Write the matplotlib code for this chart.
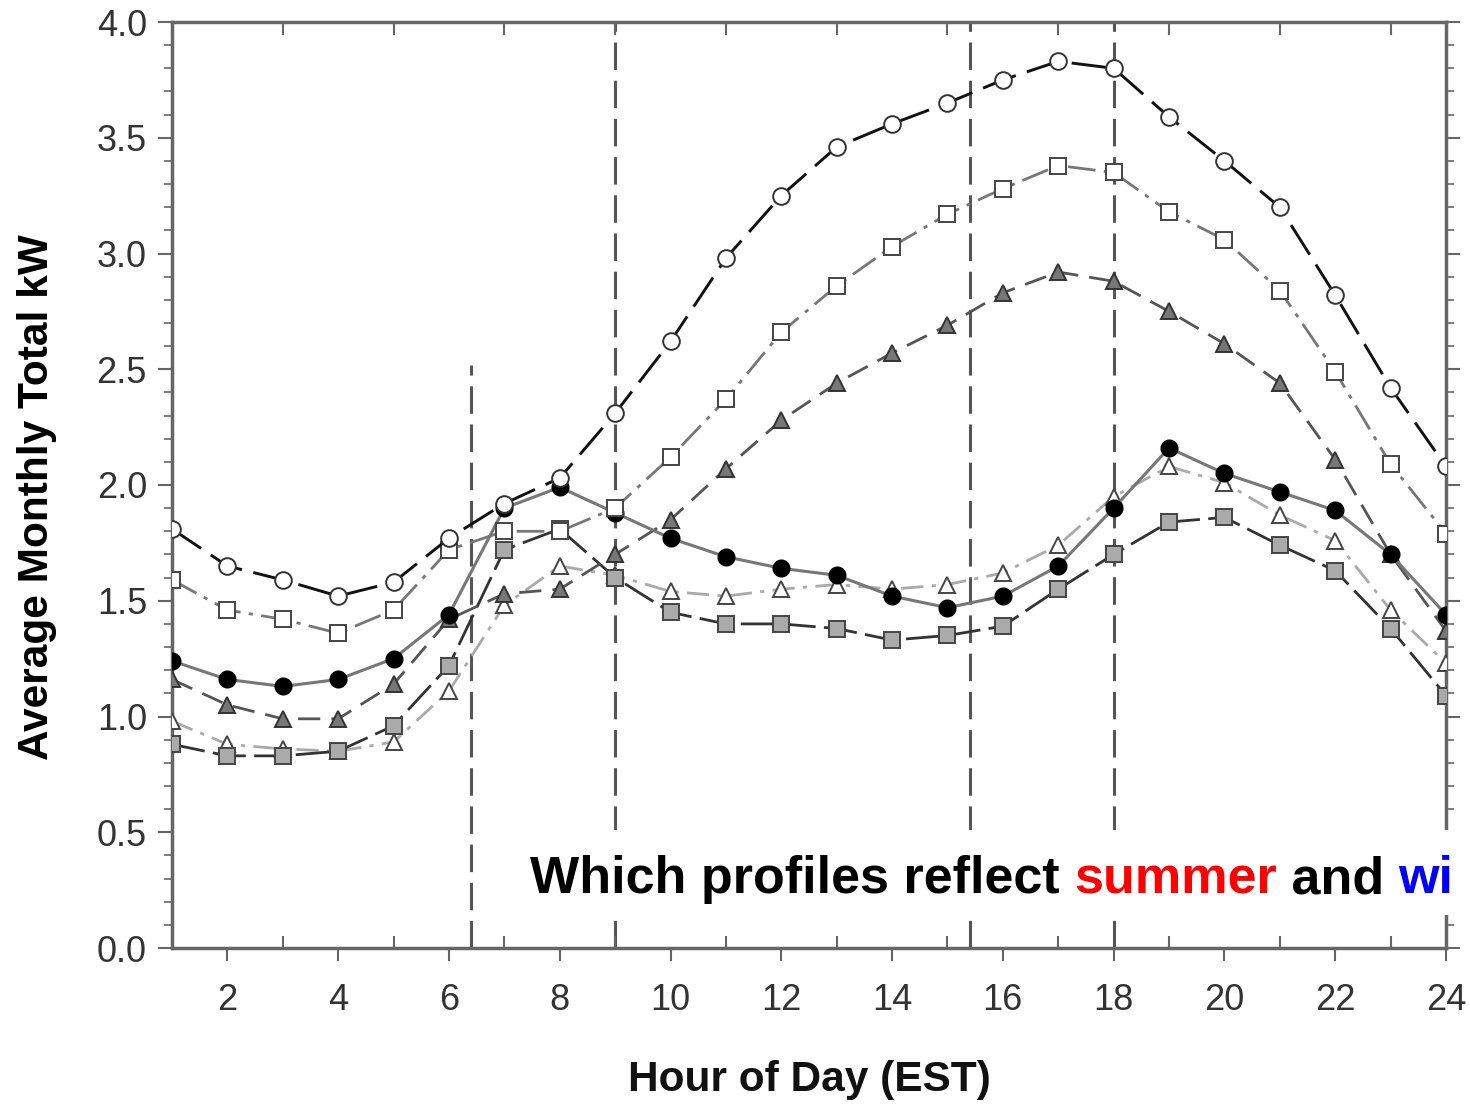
import matplotlib
matplotlib.use("Agg")
import matplotlib.pyplot as plt
from matplotlib.patches import Rectangle
from matplotlib.ticker import MultipleLocator, FixedLocator

hours = list(range(1, 25))

# open circles, black long dash (top curve)
load_a = [1.81, 1.65, 1.59, 1.52, 1.58, 1.77, 1.92, 2.03, 2.31, 2.62, 2.98, 3.25,
          3.46, 3.56, 3.65, 3.75, 3.83, 3.80, 3.59, 3.40, 3.20, 2.82, 2.42, 2.08]
# open squares, gray dash-dot
load_b = [1.59, 1.46, 1.42, 1.36, 1.46, 1.72, 1.80, 1.80, 1.90, 2.12, 2.37, 2.66,
          2.86, 3.03, 3.17, 3.28, 3.38, 3.35, 3.18, 3.06, 2.84, 2.49, 2.09, 1.79]
# filled gray triangles, dashed
load_c = [1.16, 1.05, 0.99, 0.99, 1.14, 1.42, 1.53, 1.55, 1.70, 1.85, 2.07, 2.28,
          2.44, 2.57, 2.69, 2.83, 2.92, 2.88, 2.75, 2.61, 2.44, 2.11, 1.70, 1.37]
# black circles, solid gray
load_d = [1.24, 1.16, 1.13, 1.16, 1.25, 1.44, 1.90, 1.99, 1.88, 1.77, 1.69, 1.64,
          1.61, 1.52, 1.47, 1.52, 1.65, 1.90, 2.16, 2.05, 1.97, 1.89, 1.70, 1.44]
# gray squares, dark dashed
load_e = [0.88, 0.83, 0.83, 0.85, 0.96, 1.22, 1.72, 1.81, 1.60, 1.45, 1.40, 1.40,
          1.38, 1.33, 1.35, 1.39, 1.55, 1.70, 1.84, 1.86, 1.74, 1.63, 1.38, 1.09]
# open triangles, light gray dash-dot
load_f = [0.98, 0.88, 0.86, 0.85, 0.89, 1.11, 1.48, 1.65, 1.61, 1.54, 1.52, 1.55,
          1.57, 1.55, 1.57, 1.62, 1.74, 1.95, 2.08, 2.01, 1.87, 1.76, 1.46, 1.23]

divider_hours = [6.4, 9, 15.4, 18]
divider_tops = [2.52, 4.0, 4.0, 4.0]

fig = plt.figure(figsize=(14.7, 11.04), dpi=100)
ax = fig.add_axes([172 / 1470, 1 - 948 / 1104, (1446 - 172) / 1470, (948 - 22) / 1104])

for xv, top in zip(divider_hours, divider_tops):
    ax.plot([xv, xv], [0, top], color="#555555", lw=2.2, dashes=(9, 3.5), zorder=1)

ms = 12
ax.plot(hours, load_f, color="#aaaaaa", lw=2.0, dashes=(8, 3, 1.5, 3),
        marker="^", ms=ms, mfc="white", mec="#444444", mew=1.4, zorder=3)
ax.plot(hours, load_e, color="#333333", lw=2.0, dashes=(12, 3),
        marker="s", ms=ms - 1, mfc="#aaaaaa", mec="#444444", mew=1.4, zorder=3)
ax.plot(hours, load_c, color="#555555", lw=2.0, dashes=(8, 4),
        marker="^", ms=ms, mfc="#777777", mec="#333333", mew=1.4, zorder=3)
ax.plot(hours, load_d, color="#777777", lw=2.2,
        marker="o", ms=ms, mfc="black", mec="black", mew=1.0, zorder=4)
ax.plot(hours, load_b, color="#777777", lw=2.0, dashes=(10, 3, 1.5, 3),
        marker="s", ms=ms - 1, mfc="white", mec="#444444", mew=1.4, zorder=4)
ax.plot(hours, load_a, color="#111111", lw=2.1, dashes=(12, 4),
        marker="o", ms=ms, mfc="white", mec="#333333", mew=1.4, zorder=5)

ax.set_xlim(1, 24)
ax.set_ylim(0, 4)

for s in ax.spines.values():
    s.set_color("#666666")
    s.set_linewidth(2.5)

tick_font = {"family": "Liberation Sans", "size": 26}
ax.xaxis.set_major_locator(FixedLocator(list(range(2, 25, 2))))
ax.xaxis.set_minor_locator(FixedLocator(list(range(1, 25, 2))))
ax.yaxis.set_major_locator(MultipleLocator(0.5))
ax.yaxis.set_minor_locator(MultipleLocator(0.1))
ax.set_xticklabels([str(h) for h in range(2, 25, 2)], **tick_font)
ax.set_yticks([i * 0.5 for i in range(9)])
ax.set_yticklabels([f"{i * 0.5:.1f}" for i in range(9)], **tick_font)

ax.tick_params(axis="x", which="major", direction="out", length=9, width=1.5,
               color="#666666", labelcolor="#333333", pad=16)
ax.tick_params(axis="x", which="minor", direction="in", length=9, width=1.5,
               color="#666666", top=True)
ax.tick_params(axis="y", which="major", direction="out", length=10, width=1.5,
               color="#666666", labelcolor="#333333", pad=8, right=True)
ax.tick_params(axis="y", which="minor", direction="out", length=6, width=1.2,
               color="#666666", right=True)

label_font = ["Liberation Sans Narrow", "Liberation Sans"]
fig.text(37 / 1470, 1 - 497 / 1104, "Average Monthly Total kW", rotation=90,
         ha="center", va="center", fontsize=30.5, fontweight="bold",
         family=label_font, color="black")
fig.text(809 / 1470, 1 - 1080 / 1104, "Hour of Day (EST)", ha="center", va="center",
         fontsize=30.5, fontweight="bold", family=label_font, color="#111111")

# white overlay box with the question (cut at the right edge like the source)
fig.patches.append(Rectangle((482 / 1470, 1 - 915 / 1104), 1.0, 85 / 1104,
                             transform=fig.transFigure, facecolor="white",
                             edgecolor="none", zorder=10))

fig.canvas.draw()
renderer = fig.canvas.get_renderer()
x_px = 530
for piece, col in [("Which profiles reflect ", "black"), ("summer", "#ff0000"),
                   (" and ", "black"), ("wi", "#0000ff")]:
    t = fig.text(x_px / 1470, 1 - 893 / 1104, piece, ha="left", va="baseline",
                 fontsize=37.5, fontweight="bold", family="Liberation Sans",
                 color=col, zorder=11)
    bb = t.get_window_extent(renderer)
    x_px += bb.width

fig.savefig("out.png", dpi=100)
